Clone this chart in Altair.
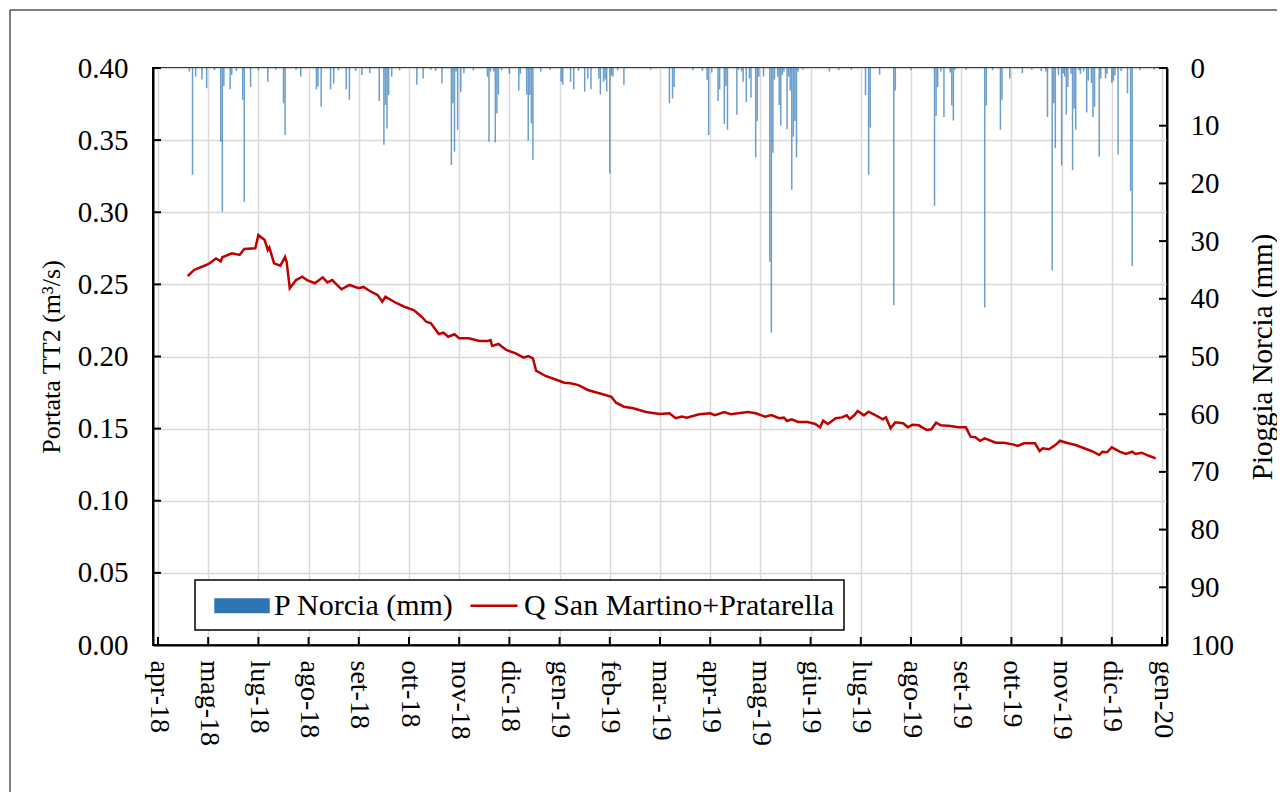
import altair as alt
import pandas as pd
from datetime import datetime, timezone

# ---------------- data ----------------
tick_dates = ["2018-04-28", "2018-05-30", "2018-07-01", "2018-08-02", "2018-09-03", "2018-10-05",
              "2018-11-06", "2018-12-08", "2019-01-09", "2019-02-10", "2019-03-14", "2019-04-15",
              "2019-05-17", "2019-06-18", "2019-07-20", "2019-08-21", "2019-09-22", "2019-10-24",
              "2019-11-25", "2019-12-27", "2020-01-28"]
tick_labels = ["apr-18", "mag-18", "lug-18", "ago-18", "set-18", "ott-18", "nov-18", "dic-18",
               "gen-19", "feb-19", "mar-19", "apr-19", "mag-19", "giu-19", "lug-19", "ago-19",
               "set-19", "ott-19", "nov-19", "dic-19", "gen-20"]
q_ticks = [0.0, 0.05, 0.10, 0.15, 0.20, 0.25, 0.30, 0.35, 0.40]
p_ticks = [0, 10, 20, 30, 40, 50, 60, 70, 80, 90, 100]

line_dates = [
    "2018-05-17", "2018-05-21", "2018-05-26", "2018-05-30", "2018-06-04", "2018-06-07", "2018-06-08",
    "2018-06-14", "2018-06-19", "2018-06-22", "2018-06-29", "2018-07-01", "2018-07-05", "2018-07-07",
    "2018-07-08", "2018-07-11", "2018-07-15", "2018-07-18", "2018-07-19", "2018-07-21", "2018-07-25",
    "2018-07-29", "2018-08-01", "2018-08-06", "2018-08-11", "2018-08-14", "2018-08-17", "2018-08-23",
    "2018-08-28", "2018-09-03", "2018-09-06", "2018-09-10", "2018-09-15", "2018-09-18", "2018-09-20",
    "2018-09-26", "2018-10-02", "2018-10-08", "2018-10-13", "2018-10-16", "2018-10-19", "2018-10-24",
    "2018-10-27", "2018-10-30", "2018-11-03", "2018-11-06", "2018-11-12", "2018-11-19", "2018-11-24",
    "2018-11-26", "2018-11-27", "2018-12-01", "2018-12-06", "2018-12-12", "2018-12-17", "2018-12-20",
    "2018-12-23", "2018-12-25", "2018-12-31", "2019-01-06", "2019-01-12", "2019-01-16", "2019-01-21",
    "2019-01-27", "2019-02-02", "2019-02-05", "2019-02-11", "2019-02-14", "2019-02-19", "2019-02-25",
    "2019-03-05", "2019-03-14", "2019-03-20", "2019-03-24", "2019-03-28", "2019-03-31", "2019-04-08",
    "2019-04-15", "2019-04-18", "2019-04-24", "2019-04-28", "2019-05-09", "2019-05-14", "2019-05-20",
    "2019-05-24", "2019-05-29", "2019-06-01", "2019-06-03", "2019-06-06", "2019-06-10", "2019-06-16",
    "2019-06-21", "2019-06-24", "2019-06-26", "2019-06-29", "2019-07-04", "2019-07-08", "2019-07-11",
    "2019-07-13", "2019-07-16", "2019-07-18", "2019-07-22", "2019-07-25", "2019-07-31", "2019-08-03",
    "2019-08-05", "2019-08-08", "2019-08-11", "2019-08-16", "2019-08-19", "2019-08-22", "2019-08-26",
    "2019-08-31", "2019-09-03", "2019-09-06", "2019-09-09", "2019-09-15", "2019-09-20", "2019-09-25",
    "2019-09-28", "2019-10-01", "2019-10-04", "2019-10-07", "2019-10-14", "2019-10-19", "2019-10-25",
    "2019-10-28", "2019-11-01", "2019-11-08", "2019-11-11", "2019-11-13", "2019-11-17", "2019-11-21",
    "2019-11-24", "2019-11-28", "2019-12-04", "2019-12-11", "2019-12-15", "2019-12-19", "2019-12-21",
    "2019-12-24", "2019-12-27", "2020-01-01", "2020-01-05", "2020-01-09", "2020-01-11", "2020-01-15",
    "2020-01-20", "2020-01-24"]
line_q = [
    0.2558, 0.2600, 0.2622, 0.2640, 0.2680, 0.2660, 0.2688,
    0.2715, 0.2704, 0.2745, 0.2750, 0.2842, 0.2807, 0.2738,
    0.2755, 0.2646, 0.2630, 0.2690, 0.2657, 0.2473, 0.2530,
    0.2553, 0.2530, 0.2508, 0.2549, 0.2514, 0.2530, 0.2466,
    0.2496, 0.2473, 0.2482, 0.2454, 0.2426, 0.2380, 0.2415,
    0.2376, 0.2345, 0.2322, 0.2276, 0.2241, 0.2230, 0.2156,
    0.2165, 0.2137, 0.2154, 0.2126, 0.2126, 0.2107, 0.2107,
    0.2114, 0.2073, 0.2087, 0.2045, 0.2022, 0.1992, 0.2003,
    0.1987, 0.1902, 0.1865, 0.1842, 0.1818, 0.1814, 0.1802,
    0.1768, 0.1749, 0.1740, 0.1721, 0.1680, 0.1652, 0.1641,
    0.1615, 0.1601, 0.1606, 0.1572, 0.1583, 0.1576, 0.1600,
    0.1606, 0.1594, 0.1615, 0.1600, 0.1615, 0.1606, 0.1583,
    0.1594, 0.1572, 0.1576, 0.1553, 0.1565, 0.1546, 0.1546,
    0.1532, 0.1509, 0.1555, 0.1532, 0.1572, 0.1578, 0.1592,
    0.1567, 0.1594, 0.1622, 0.1592, 0.1617, 0.1583, 0.1565,
    0.1578, 0.1502, 0.1544, 0.1537, 0.1510, 0.1527, 0.1523,
    0.1490, 0.1495, 0.1541, 0.1523, 0.1518, 0.1509, 0.1509,
    0.1444, 0.1440, 0.1416, 0.1433, 0.1402, 0.1402, 0.1391,
    0.1380, 0.1398, 0.1398, 0.1345, 0.1364, 0.1357, 0.1386,
    0.1416, 0.1402, 0.1386, 0.1357, 0.1340, 0.1317, 0.1340,
    0.1336, 0.1370, 0.1340, 0.1324, 0.1340, 0.1324, 0.1333,
    0.1310, 0.1294]

rain_dates = [
    "2018-05-18", "2018-05-20", "2018-05-22", "2018-05-26", "2018-05-29", "2018-06-03", "2018-06-07",
    "2018-06-08", "2018-06-09", "2018-06-13", "2018-06-14", "2018-06-17", "2018-06-21", "2018-06-22",
    "2018-06-26", "2018-07-01", "2018-07-07", "2018-07-12", "2018-07-17", "2018-07-18", "2018-07-25",
    "2018-07-28", "2018-08-07", "2018-08-08", "2018-08-10", "2018-08-16", "2018-08-18", "2018-08-21",
    "2018-08-26", "2018-08-28", "2018-09-01", "2018-09-05", "2018-09-10", "2018-09-16", "2018-09-19",
    "2018-09-20", "2018-09-21", "2018-09-22", "2018-09-24", "2018-09-29", "2018-10-10", "2018-10-14",
    "2018-10-19", "2018-10-22", "2018-10-26", "2018-11-01", "2018-11-02", "2018-11-03", "2018-11-04",
    "2018-11-05", "2018-11-07", "2018-11-09", "2018-11-15", "2018-11-24", "2018-11-25", "2018-11-26",
    "2018-11-28", "2018-11-29", "2018-11-30", "2018-12-01", "2018-12-03", "2018-12-08", "2018-12-14",
    "2018-12-15", "2018-12-19", "2018-12-20", "2018-12-21", "2018-12-22", "2018-12-23", "2018-12-28",
    "2019-01-03", "2019-01-10", "2019-01-11", "2019-01-16", "2019-01-18", "2019-01-21", "2019-01-25",
    "2019-01-27", "2019-01-29", "2019-02-03", "2019-02-04", "2019-02-06", "2019-02-07", "2019-02-08",
    "2019-02-10", "2019-02-11", "2019-02-12", "2019-02-15", "2019-02-19", "2019-03-08", "2019-03-20",
    "2019-03-22", "2019-03-23", "2019-04-04", "2019-04-10", "2019-04-13", "2019-04-14", "2019-04-16",
    "2019-04-20", "2019-04-21", "2019-04-24", "2019-04-25", "2019-04-26", "2019-05-02", "2019-05-03",
    "2019-05-05", "2019-05-06", "2019-05-08", "2019-05-10", "2019-05-11", "2019-05-14", "2019-05-15",
    "2019-05-16", "2019-05-19", "2019-05-23", "2019-05-24", "2019-05-25", "2019-05-26", "2019-05-28",
    "2019-05-29", "2019-05-30", "2019-05-31", "2019-06-01", "2019-06-03", "2019-06-04", "2019-06-05",
    "2019-06-06", "2019-06-07", "2019-06-08", "2019-06-09", "2019-06-10", "2019-06-13", "2019-06-30",
    "2019-07-06", "2019-07-14", "2019-07-23", "2019-07-25", "2019-07-26", "2019-08-01", "2019-08-10",
    "2019-08-11", "2019-08-21", "2019-09-05", "2019-09-06", "2019-09-07", "2019-09-09", "2019-09-11",
    "2019-09-15", "2019-09-16", "2019-09-17", "2019-09-18", "2019-09-25", "2019-10-07", "2019-10-08",
    "2019-10-12", "2019-10-17", "2019-10-18", "2019-10-23", "2019-10-31", "2019-11-06", "2019-11-12",
    "2019-11-15", "2019-11-16", "2019-11-19", "2019-11-20", "2019-11-21", "2019-11-23", "2019-11-25",
    "2019-11-26", "2019-11-27", "2019-11-28", "2019-11-29", "2019-12-01", "2019-12-02", "2019-12-03",
    "2019-12-04", "2019-12-06", "2019-12-07", "2019-12-09", "2019-12-11", "2019-12-12", "2019-12-14",
    "2019-12-15", "2019-12-16", "2019-12-19", "2019-12-20", "2019-12-23", "2019-12-24", "2019-12-27",
    "2019-12-28", "2019-12-29", "2019-12-31", "2020-01-02", "2020-01-06", "2020-01-08", "2020-01-09",
    "2020-01-14", "2020-01-23"]
rain_mm = [
    0.6, 18.5, 1.5, 2.0, 3.5, 0.4, 12.8,
    24.9, 3.1, 3.7, 1.2, 0.5, 5.5, 23.2,
    3.3, 0.4, 2.4, 0.3, 6.1, 11.6, 0.3,
    1.5, 3.7, 3.2, 6.7, 3.7, 2.7, 0.4,
    3.7, 5.5, 0.5, 1.2, 0.9, 5.7, 13.3,
    6.4, 10.5, 4.7, 1.5, 0.4, 2.9, 1.8,
    0.3, 0.5, 2.7, 16.8, 6.1, 14.5, 0.6,
    10.7, 4.1, 0.9, 0.4, 1.5, 12.8, 0.6,
    0.6, 12.9, 7.9, 4.6, 0.4, 1.0, 3.9,
    1.0, 4.6, 12.6, 4.7, 9.6, 15.9, 0.6,
    0.3, 2.4, 2.9, 2.4, 3.7, 0.5, 4.1,
    1.8, 3.7, 1.8, 4.6, 2.4, 2.0, 4.1,
    18.3, 1.3, 1.5, 0.4, 2.9, 0.3, 6.1,
    5.3, 3.3, 0.4, 0.5, 2.1, 11.6, 0.8,
    5.7, 3.7, 9.7, 3.1, 10.7, 8.1, 0.3,
    0.6, 2.4, 5.9, 1.8, 5.1, 15.5, 9.2,
    1.5, 1.5, 33.6, 45.9, 14.7, 2.0, 1.5,
    6.4, 10.0, 1.2, 0.6, 10.6, 1.5, 3.9,
    21.1, 11.9, 9.2, 15.5, 0.6, 0.3, 0.6,
    0.4, 0.3, 4.7, 18.5, 10.3, 1.2, 41.1,
    3.9, 0.4, 23.9, 8.3, 3.3, 0.6, 8.5,
    0.8, 6.5, 9.1, 0.3, 0.3, 41.5, 6.5,
    0.4, 10.7, 5.5, 1.8, 0.9, 0.3, 0.5,
    0.6, 8.5, 35.1, 6.1, 13.9, 1.2, 16.9,
    0.9, 1.5, 8.1, 3.3, 1.0, 17.7, 7.0,
    10.7, 0.4, 1.0, 0.6, 7.7, 2.2, 2.6,
    8.5, 6.7, 15.4, 1.8, 1.8, 1.0, 2.6,
    2.2, 1.3, 15.0, 0.5, 4.4, 21.3, 34.3,
    0.4, 0.3]

SERIES_P = "P Norcia (mm)"
SERIES_Q = "Q San Martino+Pratarella"

line_df = pd.DataFrame({"date": line_dates, "q": line_q, "serie": SERIES_Q})
rain_df = pd.DataFrame({"date": rain_dates, "p": rain_mm, "serie": SERIES_P})
xtick_df = pd.DataFrame({"date": tick_dates})
qtick_df = pd.DataFrame({"q": q_ticks})
ptick_df = pd.DataFrame({"p": p_ticks})


def to_ms(s):
    return int(datetime.strptime(s, "%Y-%m-%d").replace(tzinfo=timezone.utc).timestamp() * 1000)


tick_ms = [to_ms(s) for s in tick_dates]
step_ms = tick_ms[1] - tick_ms[0]
label_expr = ("[" + ",".join("'%s'" % l for l in tick_labels) + "]"
              + "[round((datum.value - %d) / %d)]" % (tick_ms[0], step_ms))

FONT = "Liberation Serif"
FS = 29
GRID = "#D9D9D9"
W, H = 1014, 577
TICK = 8

# legend symbols: slot of 30 px (scale 15 px per path unit)
P_SHAPE = "M-1,0M-0.33,-0.42H3.2V0.42H-0.33Z"
Q_SHAPE = "M0,0H3.13"

color_scale = alt.Scale(domain=[SERIES_P, SERIES_Q], range=["#2E75B6", "#C00000"])
is_p = "datum.value === '%s'" % SERIES_P
legend = alt.Legend(
    title=None, orient="none", legendX=42, legendY=512, direction="horizontal",
    labelFont=FONT, labelFontSize=30, labelColor="black", labelLimit=0, labelOffset=37,
    symbolSize=900,
    symbolType=alt.ExprRef(expr="%s ? '%s' : '%s'" % (is_p, P_SHAPE, Q_SHAPE)),
    symbolFillColor=alt.ExprRef(expr=is_p + " ? '#2E75B6' : 'transparent'"),
    symbolStrokeColor=alt.ExprRef(expr=is_p + " ? '#2E75B6' : '#C00000'"),
    symbolStrokeWidth=2.5, symbolOpacity=1,
)

x_scale = alt.Scale(type="utc", domain=[tick_ms[0], tick_ms[-1]], nice=False)
x_axis = alt.Axis(values=tick_ms, labelExpr=label_expr, title=None, grid=True,
                  gridColor=GRID, gridWidth=1.5, labelAngle=90, labelAlign="left",
                  labelBaseline="middle", labelPadding=15, labelOverlap=False, labelFlush=False,
                  labelFontSize=28, ticks=False, tickSize=0)
x_enc = alt.X("date:T", scale=x_scale, axis=x_axis)

p_scale = alt.Scale(domain=[0, 100], reverse=True, nice=False)
q_scale = alt.Scale(domain=[0, 0.4], nice=False)

bars = alt.Chart(rain_df).mark_bar(width=1.5, opacity=0.7).encode(
    x=x_enc,
    y=alt.Y("p:Q", scale=p_scale,
            axis=alt.Axis(orient="right", values=p_ticks, title="Pioggia Norcia (mm)", grid=False,
                          titleAngle=270, titleBaseline="top", ticks=False, tickSize=0,
                          labelPadding=23, titlePadding=15, titleFontSize=29)),
    color=alt.Color("serie:N", scale=color_scale, legend=legend),
)

line = alt.Chart(line_df).mark_line(strokeWidth=2.5).encode(
    x=x_enc,
    y=alt.Y("q:Q", scale=q_scale,
            axis=alt.Axis(orient="left", values=q_ticks, format=".2f", title="Portata TT2 (m³/s)",
                          grid=True, gridColor=GRID, gridWidth=1.5, ticks=False, tickSize=0,
                          labelPadding=25, titlePadding=13, titleFontSize=26)),
    color=alt.Color("serie:N", scale=color_scale, legend=legend),
)

# inward tick marks of the three axes
xticks = alt.Chart(xtick_df).mark_rule(color="black", strokeWidth=2).encode(
    x=x_enc, y=alt.value(H - TICK), y2=alt.value(H))
qticks = alt.Chart(qtick_df).mark_rule(color="black", strokeWidth=2).encode(
    y=alt.Y("q:Q", scale=q_scale, axis=None), x=alt.value(0), x2=alt.value(TICK))
pticks = alt.Chart(ptick_df).mark_rule(color="black", strokeWidth=2).encode(
    y=alt.Y("p:Q", scale=p_scale, axis=None), x=alt.value(W - TICK), x2=alt.value(W))

border = alt.Chart(alt.Data(values=[{"k": 1}])).mark_rect(
    filled=False, stroke="black", strokeWidth=1
).encode(x=alt.value(-143), x2=alt.value(1125), y=alt.value(-58), y2=alt.value(740))

chart = (
    alt.layer(border, bars, line, xticks, qticks, pticks)
    .resolve_scale(y="independent")
    .properties(
        width=W, height=H,
        autosize=alt.AutoSizeParams(type="none", contains="content"),
        padding={"left": 145, "top": 60, "right": 110, "bottom": 147},
        background="white",
    )
    .configure(font=FONT)
    .configure_view(stroke="black", strokeWidth=2)
    .configure_axis(
        labelFont=FONT, labelFontSize=FS, labelColor="black",
        titleFont=FONT, titleFontSize=FS, titleColor="black", titleFontWeight="normal",
        domainColor="black", domainWidth=2, tickColor="black", tickWidth=2,
    )
    .configure_legend(
        fillColor="white", strokeColor="black", strokeWidth=1.5, padding=9, columnPadding=-2,
    )
)

chart.save("out.html", embed_options={"renderer": "svg", "actions": False})
